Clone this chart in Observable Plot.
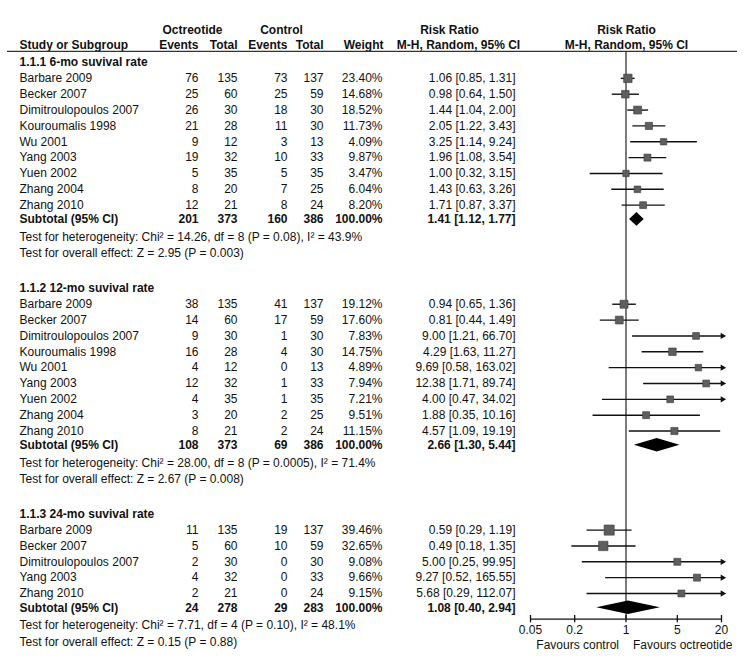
<!DOCTYPE html>
<html><head><meta charset="utf-8">
<script src="https://cdn.jsdelivr.net/npm/d3@7"></script>
<script src="https://cdn.jsdelivr.net/npm/@observablehq/plot@0.6"></script>
<style>body{margin:0;background:#fff}</style>
</head><body><div id="chart"></div>
<script>
// ---------- data ----------
const groupNames = ["1.1.1 6-mo suvival rate", "1.1.2 12-mo suvival rate", "1.1.3 24-mo suvival rate"];
const studyGroup = [0,0,0,0,0,0,0,0,0, 1,1,1,1,1,1,1,1,1, 2,2,2,2,2];
const studyName = [
  "Barbare 2009","Becker 2007","Dimitroulopoulos 2007","Kouroumalis 1998","Wu 2001","Yang 2003","Yuen 2002","Zhang 2004","Zhang 2010",
  "Barbare 2009","Becker 2007","Dimitroulopoulos 2007","Kouroumalis 1998","Wu 2001","Yang 2003","Yuen 2002","Zhang 2004","Zhang 2010",
  "Barbare 2009","Becker 2007","Dimitroulopoulos 2007","Yang 2003","Zhang 2010"];
const octEvents = [76,25,26,21,9,19,5,8,12, 38,14,9,16,4,12,4,3,8, 11,5,2,4,2];
const octTotal  = [135,60,30,28,12,32,35,20,21, 135,60,30,28,12,32,35,20,21, 135,60,30,32,21];
const ctlEvents = [73,25,18,11,3,10,5,7,8, 41,17,1,4,0,1,1,2,2, 19,10,0,0,0];
const ctlTotal  = [137,59,30,30,13,33,35,25,24, 137,59,30,30,13,33,35,25,24, 137,59,30,33,24];
const weight    = [23.40,14.68,18.52,11.73,4.09,9.87,3.47,6.04,8.20, 19.12,17.60,7.83,14.75,4.89,7.94,7.21,9.51,11.15, 39.46,32.65,9.08,9.66,9.15];
const riskRatio = [1.06,0.98,1.44,2.05,3.25,1.96,1.00,1.43,1.71, 0.94,0.81,9.00,4.29,9.69,12.38,4.00,1.88,4.57, 0.59,0.49,5.00,9.27,5.68];
const ciLow     = [0.85,0.64,1.04,1.22,1.14,1.08,0.32,0.63,0.87, 0.65,0.44,1.21,1.63,0.58,1.71,0.47,0.35,1.09, 0.29,0.18,0.25,0.52,0.29];
const ciHigh    = [1.31,1.50,2.00,3.43,9.24,3.54,3.15,3.26,3.37, 1.36,1.49,66.70,11.27,163.02,89.74,34.02,10.16,19.19, 1.19,1.35,99.95,165.55,112.07];

const subOctEvents = [201,108,24];
const subOctTotal  = [373,373,278];
const subCtlEvents = [160,69,29];
const subCtlTotal  = [386,386,283];
const subRR   = [1.41,2.66,1.08];
const subLow  = [1.12,1.30,0.40];
const subHigh = [1.77,5.44,2.94];
const hetText = [
  "Test for heterogeneity: Chi² = 14.26, df = 8 (P = 0.08), I² = 43.9%",
  "Test for heterogeneity: Chi² = 28.00, df = 8 (P = 0.0005), I² = 71.4%",
  "Test for heterogeneity: Chi² = 7.71, df = 4 (P = 0.10), I² = 48.1%"];
const overallText = [
  "Test for overall effect: Z = 2.95 (P = 0.003)",
  "Test for overall effect: Z = 2.67 (P = 0.008)",
  "Test for overall effect: Z = 0.15 (P = 0.88)"];
const tickValues = [0.05, 0.2, 1, 5, 20];
const xDomain = [0.05, 20];

// ---------- layout (row units) ----------
const U = 15.85;
const FS = 12;
const fmt2 = v => v.toFixed(2);
const ciStr = (r, l, h) => `${fmt2(r)} [${fmt2(l)}, ${fmt2(h)}]`;
const headY1 = 0, headY2 = 0.95, lineY = 1.32;
let cursor = 2.02;
const groupRows = [], studyRows = [], subRows = [], testRows = [], diamonds = [];
const H = 0.43;
groupNames.forEach((g, gi) => {
  groupRows.push({y: cursor, text: g});
  let y = cursor;
  studyName.forEach((n, i) => {
    if (studyGroup[i] !== gi) return;
    y += 1;
    studyRows.push({y, name: n, oe: octEvents[i], ot: octTotal[i], ce: ctlEvents[i], ct: ctlTotal[i],
      w: weight[i].toFixed(2) + "%", wt: weight[i], rr: riskRatio[i], lo: ciLow[i], hi: ciHigh[i],
      ci: ciStr(riskRatio[i], ciLow[i], ciHigh[i])});
  });
  const sy = y + 0.9;
  subRows.push({y: sy, name: "Subtotal (95% CI)", oe: subOctEvents[gi], ot: subOctTotal[gi], ce: subCtlEvents[gi], ct: subCtlTotal[gi],
    w: "100.00%", ci: ciStr(subRR[gi], subLow[gi], subHigh[gi])});
  diamonds.push({g: gi, x: subLow[gi], y1: sy, y2: sy});
  diamonds.push({g: gi, x: subRR[gi], y1: sy - H, y2: sy + H});
  diamonds.push({g: gi, x: subHigh[gi], y1: sy, y2: sy});
  testRows.push({y: sy + 1.1, text: hetText[gi]}, {y: sy + 2.15, text: overallText[gi]});
  cursor = sy + 2.15 + 2.2;
});
const lastSub = subRows[subRows.length - 1].y;
const axisY = lastSub + 0.72;

const font = "'Liberation Sans', Arial, Helvetica, sans-serif";
const ink = "#111";

function col(data, key, dx, anchor, weight) {
  return Plot.text(data, {frameAnchor: "left", y: "y", text: key, dx, textAnchor: anchor,
    fontWeight: weight, fill: ink, fontSize: FS});
}
const numCols = (data, wgt) => [
  col(data, "name", 19, "start", wgt),
  col(data, "oe", 198, "end", wgt),
  col(data, "ot", 237, "end", wgt),
  col(data, "ce", 287, "end", wgt),
  col(data, "ct", 323, "end", wgt),
  col(data, "w", 382, "end", wgt),
  col(data, "ci", 515, "end", wgt)
];

const header1 = [
  {y: headY1, text: "Octreotide", x: 192, a: "middle"},
  {y: headY1, text: "Control", x: 281, a: "middle"},
  {y: headY1, text: "Risk Ratio", x: 449, a: "middle"},
  {y: headY1, text: "Risk Ratio", x: 626, a: "middle"},
  {y: headY2, text: "Study or Subgroup", x: 19, a: "start"},
  {y: headY2, text: "Events", x: 198, a: "end"},
  {y: headY2, text: "Total", x: 237, a: "end"},
  {y: headY2, text: "Events", x: 287, a: "end"},
  {y: headY2, text: "Total", x: 323, a: "end"},
  {y: headY2, text: "Weight", x: 383, a: "end"},
  {y: headY2, text: "M-H, Random, 95% CI", x: 458, a: "middle"},
  {y: headY2, text: "M-H, Random, 95% CI", x: 626, a: "middle"}
];
const headerMarks = header1.map(h => Plot.text([h], {frameAnchor: "left", y: "y", text: "text", dx: h.x,
  textAnchor: h.a, fontWeight: "bold", fill: ink, fontSize: FS}));

const arrows = studyRows.filter(d => d.hi > xDomain[1]);

const chart = Plot.plot({
  width: 750, height: 664,
  marginLeft: 0, marginRight: 0, marginTop: 0, marginBottom: 0,
  style: {fontFamily: font, fontSize: FS + "px", background: "#fff"},
  x: {type: "log", domain: xDomain, range: [530, 721], axis: null},
  y: {domain: [0, 40], range: [30, 30 + 40 * U], axis: null},
  r: {type: "identity"},
  marks: [
    ...headerMarks,
    Plot.ruleY([lineY], {insetLeft: 7, insetRight: 13, stroke: "#333", strokeWidth: 1.4}),
    Plot.text(groupRows, {frameAnchor: "left", y: "y", text: "text", dx: 19, textAnchor: "start", fontWeight: "bold", fill: ink, fontSize: FS}),
    ...numCols(studyRows, "normal"),
    ...numCols(subRows, "bold"),
    Plot.text(testRows, {frameAnchor: "left", y: "y", text: "text", dx: 19, textAnchor: "start", fill: ink, fontSize: FS}),
    // reference line at RR = 1
    Plot.ruleX([1], {y1: lineY, y2: axisY, stroke: "#222", strokeWidth: 1.2}),
    // confidence intervals
    Plot.link(studyRows, {x1: d => Math.max(d.lo, xDomain[0]), x2: d => Math.min(d.hi, xDomain[1]), y1: "y", y2: "y", stroke: "#111", strokeWidth: 1.4}),
    Plot.dot(arrows, {x: () => xDomain[1], y: "y", symbol: "triangle2", r: 3, rotate: 90, dx: 1, fill: "#111", stroke: "none"}),
    Plot.dot(studyRows, {x: "rr", y: "y", symbol: "square", r: d => (6 + 0.105 * d.wt) / Math.sqrt(Math.PI), fill: "#5e5e5e", stroke: "#3a3a3a", strokeWidth: 0.6}),
    Plot.area(diamonds, {x1: "x", y1: "y1", y2: "y2", z: "g", fill: "#000"}),
    // axis
    Plot.ruleY([axisY], {x1: xDomain[0], x2: xDomain[1], stroke: "#111", strokeWidth: 1.3}),
    Plot.ruleX(tickValues, {y1: axisY - 0.23, y2: axisY + 0.23, stroke: "#111", strokeWidth: 1.3}),
    Plot.text(tickValues, {x: d => d, y: axisY + 0.72, text: d => String(d), fill: ink, fontSize: FS}),
    Plot.text(["Favours control"], {x: 1, y: axisY + 1.67, text: d => d, textAnchor: "end", dx: -7, fill: ink, fontSize: FS}),
    Plot.text(["Favours octreotide"], {x: 1, y: axisY + 1.67, text: d => d, textAnchor: "start", dx: 7, fill: ink, fontSize: FS})
  ]
});
document.getElementById("chart").appendChild(chart);
</script>
</body></html>
